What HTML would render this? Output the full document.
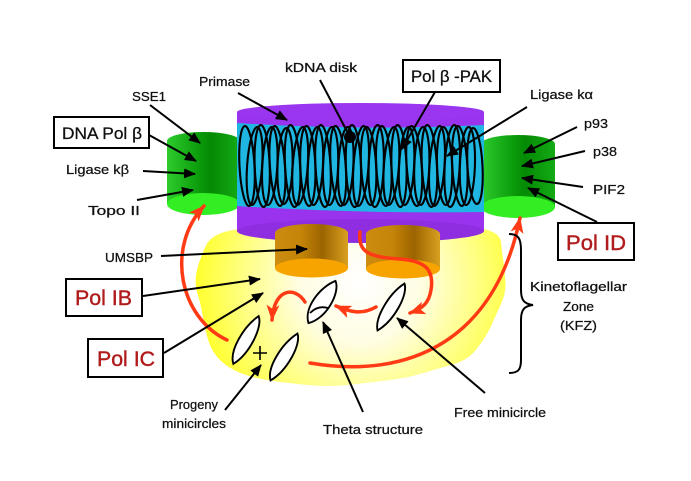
<!DOCTYPE html>
<html><head><meta charset="utf-8"><style>
html,body{margin:0;padding:0;background:#fff;width:691px;height:481px;overflow:hidden}
svg{display:block}
text{font-family:"Liberation Sans",sans-serif;fill:#111}
.s{font-size:12.5px;stroke:#111;stroke-width:0.25}
.b{font-size:17px;stroke:#111;stroke-width:0.3}
.r{font-size:21px;fill:#b01c1c;stroke:#b01c1c;stroke-width:0.4}
</style></head><body>
<svg width="691" height="481" viewBox="0 0 691 481" xmlns="http://www.w3.org/2000/svg">
<defs>
<radialGradient id="yg" cx="360" cy="282" r="175" gradientUnits="userSpaceOnUse">
<stop offset="0" stop-color="#ffffff"/><stop offset="0.35" stop-color="#fffde2"/><stop offset="0.68" stop-color="#ffff80"/><stop offset="1" stop-color="#ffff1a"/>
</radialGradient>
<linearGradient id="gg" x1="0" x2="1" y1="0" y2="0">
<stop offset="0" stop-color="#2dcc2d"/><stop offset="0.45" stop-color="#0a9a0a"/><stop offset="0.6" stop-color="#058a05"/><stop offset="1" stop-color="#14ab14"/>
</linearGradient>
<linearGradient id="og" x1="0" x2="1" y1="0" y2="0">
<stop offset="0" stop-color="#cc8c10"/><stop offset="0.35" stop-color="#c58508"/><stop offset="0.65" stop-color="#9c6400"/><stop offset="1" stop-color="#d9a020"/>
</linearGradient>
<marker id="ab" viewBox="0 0 12 10" refX="11" refY="5" markerWidth="12" markerHeight="10" markerUnits="userSpaceOnUse" orient="auto"><path d="M0,0 L12,5 L0,10 z" fill="#000"/></marker>
<marker id="ar" viewBox="0 0 16 13" refX="15" refY="6.5" markerWidth="16" markerHeight="13" markerUnits="userSpaceOnUse" orient="auto"><path d="M0,0 L16,6.5 L0,13 L4,6.5 z" fill="#ff3a14"/></marker>
</defs>

<!-- yellow KFZ blob -->
<path d="M206,245.5 Q212,233 236,229.5 Q260,226 310,224 Q360,222 410,223 Q460,224 480,228 Q500,232 501,242 Q502,252 503.5,262 Q505,272 505.5,282.5 Q506,293 501,304 Q496,315 491,326 Q486,337 477,348.5 Q468,360 454,364 Q440,368 423.5,373 Q407,378 387,380.5 Q367,383 347.5,385 Q328,387 307.5,385 Q287,383 270,380.5 Q253,378 240.5,373 Q228,368 220,360 Q212,352 208.5,341 Q205,330 203,317.5 Q201,305 197.5,293.5 Q194,282 197,270 Q200,258 206,245.5 Z" fill="url(#yg)"/>

<!-- green cylinders -->
<g>
<rect x="167" y="141" width="73" height="63" fill="url(#gg)"/>
<ellipse cx="203.5" cy="141" rx="36.5" ry="9" fill="url(#gg)"/>
<ellipse cx="203.5" cy="204" rx="36.5" ry="11" fill="#33ee22"/>
<rect x="481" y="144" width="74" height="63" fill="url(#gg)"/>
<ellipse cx="518" cy="144" rx="37" ry="9" fill="url(#gg)"/>
<ellipse cx="518" cy="207" rx="37" ry="11" fill="#33ee22"/>
</g>

<!-- purple disk -->
<rect x="237" y="112" width="247" height="119" fill="#9933ee"/>
<ellipse cx="360.5" cy="112" rx="123.5" ry="9" fill="#9b36f0"/>
<ellipse cx="360.5" cy="231" rx="123.5" ry="12" fill="#8f2ee0"/>
<path d="M237,123 Q360,131 484,125 L484,212 Q360,214 237,206 Z" fill="#20b6e2"/>

<!-- kDNA loops -->
<g fill="none" stroke="#000" stroke-width="2.1">
<ellipse cx="247" cy="166" rx="7.5" ry="40" transform="rotate(-3 247 166)"/>
<ellipse cx="254.6" cy="166" rx="7.5" ry="39" transform="rotate(4 254.6 166)"/>
<ellipse cx="262.2" cy="166" rx="7.5" ry="41" transform="rotate(-2 262.2 166)"/>
<ellipse cx="269.8" cy="166" rx="7.5" ry="39" transform="rotate(3 269.8 166)"/>
<ellipse cx="277.4" cy="166" rx="7.5" ry="40" transform="rotate(-4 277.4 166)"/>
<ellipse cx="285" cy="166" rx="7.5" ry="38" transform="rotate(2 285 166)"/>
<ellipse cx="292.6" cy="166" rx="7.5" ry="41" transform="rotate(-3 292.6 166)"/>
<ellipse cx="300.2" cy="166" rx="7.5" ry="39" transform="rotate(4 300.2 166)"/>
<ellipse cx="307.8" cy="166" rx="7.5" ry="40" transform="rotate(-2 307.8 166)"/>
<ellipse cx="315.4" cy="166" rx="7.5" ry="39" transform="rotate(3 315.4 166)"/>
<ellipse cx="323" cy="166" rx="7.5" ry="41" transform="rotate(-3 323 166)"/>
<ellipse cx="330.6" cy="166" rx="7.5" ry="39" transform="rotate(2 330.6 166)"/>
<ellipse cx="338.2" cy="166" rx="7.5" ry="40" transform="rotate(-4 338.2 166)"/>
<ellipse cx="345.8" cy="166" rx="7.5" ry="39" transform="rotate(3 345.8 166)"/>
<ellipse cx="353.4" cy="166" rx="7.5" ry="41" transform="rotate(-2 353.4 166)"/>
<ellipse cx="361" cy="166" rx="7.5" ry="40" transform="rotate(4 361 166)"/>
<ellipse cx="368.6" cy="166" rx="7.5" ry="39" transform="rotate(-3 368.6 166)"/>
<ellipse cx="376.2" cy="166" rx="7.5" ry="41" transform="rotate(2 376.2 166)"/>
<ellipse cx="383.8" cy="166" rx="7.5" ry="40" transform="rotate(-3 383.8 166)"/>
<ellipse cx="391.4" cy="166" rx="7.5" ry="39" transform="rotate(4 391.4 166)"/>
<ellipse cx="399" cy="166" rx="7.5" ry="41" transform="rotate(-2 399 166)"/>
<ellipse cx="406.6" cy="166" rx="7.5" ry="39" transform="rotate(3 406.6 166)"/>
<ellipse cx="414.2" cy="166" rx="7.5" ry="40" transform="rotate(-4 414.2 166)"/>
<ellipse cx="421.8" cy="166" rx="7.5" ry="39" transform="rotate(2 421.8 166)"/>
<ellipse cx="429.4" cy="166" rx="7.5" ry="41" transform="rotate(-3 429.4 166)"/>
<ellipse cx="437" cy="166" rx="7.5" ry="40" transform="rotate(4 437 166)"/>
<ellipse cx="444.6" cy="166" rx="7.5" ry="39" transform="rotate(-2 444.6 166)"/>
<ellipse cx="452.2" cy="166" rx="7.5" ry="41" transform="rotate(3 452.2 166)"/>
<ellipse cx="459.8" cy="166" rx="7.5" ry="40" transform="rotate(-3 459.8 166)"/>
<ellipse cx="467.4" cy="166" rx="7.5" ry="39" transform="rotate(2 467.4 166)"/>
<ellipse cx="475" cy="166" rx="7.5" ry="38" transform="rotate(-3 475 166)"/>
</g>

<!-- orange cylinders (UMSBP) -->
<rect x="275" y="233" width="73" height="35" fill="url(#og)"/>
<ellipse cx="311.5" cy="233" rx="36.5" ry="9" fill="url(#og)"/>
<ellipse cx="311.5" cy="268" rx="36.5" ry="9.5" fill="#f7a400"/>
<rect x="366" y="234" width="74" height="35" fill="url(#og)"/>
<ellipse cx="403" cy="234" rx="37" ry="9" fill="url(#og)"/>
<ellipse cx="403" cy="269" rx="37" ry="9.5" fill="#f7a400"/>

<!-- red arrows -->
<g fill="none" stroke="#ff3a14" stroke-width="3.5" stroke-linecap="round">
<path d="M227,340 C180,318 165,248 204,206" marker-end="url(#ar)"/>
<path d="M310,363 C410,380 495,340 520,218" marker-end="url(#ar)"/>
<path d="M360,232 C358,252 368,257 400,259 C428,261 434,272 431,290 C429,302 424,308 410,313" marker-end="url(#ar)"/>
<path d="M376,307 C362,315 350,312 336,306" marker-end="url(#ar)"/>
<path d="M305,302 C295,286 274,288 272,320" marker-end="url(#ar)"/>
</g>

<!-- minicircles -->
<g fill="#fff" stroke="#000" stroke-width="1.9">
<path transform="translate(391,307) rotate(-58)" d="M-27,1 C-18,-8 10,-9 27,-1 C20,8 -10,10 -27,1 Z"/>
<path transform="translate(322,302) rotate(-55)" d="M-25,1 C-15,-12 12,-10 25,-1 C18,10 -12,13 -25,1 Z"/>
<path transform="translate(246,340) rotate(-60)" d="M-27,1 C-18,-9 10,-9 27,-1 C20,8 -10,10 -27,1 Z"/>
<path transform="translate(284,357) rotate(-58)" d="M-27,1 C-18,-9 10,-9 27,-1 C20,8 -10,10 -27,1 Z"/>
</g>
<path d="M310,313 Q318,305 328,308" fill="none" stroke="#000" stroke-width="1.8"/>
<path d="M260,346 V360 M253,353 H267" stroke="#000" stroke-width="1.6"/>

<!-- black pointer lines -->
<g stroke="#000" stroke-width="2" fill="none" marker-end="url(#ab)">
<line x1="238" y1="93" x2="287" y2="120"/>
<line x1="435" y1="92" x2="402" y2="149"/>
<line x1="527" y1="107" x2="447" y2="156"/>
<line x1="150" y1="105" x2="200" y2="143"/>
<line x1="149" y1="135" x2="196" y2="161"/>
<line x1="143" y1="171" x2="195" y2="174"/>
<line x1="137" y1="200" x2="193" y2="190"/>
<line x1="577" y1="127" x2="524" y2="153"/>
<line x1="585" y1="151" x2="522" y2="166"/>
<line x1="583" y1="187" x2="522" y2="178"/>
<line x1="597" y1="222" x2="528" y2="188"/>
<line x1="161" y1="256" x2="307" y2="249"/>
<line x1="143" y1="296" x2="260" y2="279"/>
<line x1="164" y1="353" x2="263" y2="293"/>
<line x1="225" y1="410" x2="261" y2="365"/>
<line x1="363" y1="412" x2="323" y2="322"/>
<line x1="485" y1="393" x2="397" y2="318"/>
</g>
<line x1="320" y1="80" x2="350" y2="137" stroke="#000" stroke-width="2"/>
<circle cx="350" cy="137" r="6" fill="#000"/>

<!-- brace -->
<path d="M509,234 C518,234 521,238 521,250 L521,290 C521,300 524,304 533,305 C524,306 521,310 521,320 L521,360 C521,370 518,373 509,373" fill="none" stroke="#000" stroke-width="2"/>

<!-- boxes -->
<g fill="#fff" stroke="#000" stroke-width="2">
<rect x="54" y="117" width="95" height="31"/>
<rect x="403" y="60" width="97" height="32"/>
<rect x="558" y="223" width="76" height="37"/>
<rect x="66" y="279" width="76" height="37"/>
<rect x="88" y="339" width="75" height="38"/>
</g>

<!-- labels -->
<text class="s" x="199" y="86" textLength="51" lengthAdjust="spacingAndGlyphs">Primase</text>
<text class="s" x="285" y="72" textLength="72" lengthAdjust="spacingAndGlyphs">kDNA disk</text>
<text class="s" x="132" y="101" textLength="34" lengthAdjust="spacingAndGlyphs">SSE1</text>
<text class="s" x="66" y="174" textLength="63" lengthAdjust="spacingAndGlyphs">Ligase kβ</text>
<text class="s" x="88" y="215" textLength="52" lengthAdjust="spacingAndGlyphs">Topo II</text>
<text class="s" x="530" y="99" textLength="63" lengthAdjust="spacingAndGlyphs">Ligase kα</text>
<text class="s" x="584" y="128" textLength="24" lengthAdjust="spacingAndGlyphs">p93</text>
<text class="s" x="593" y="156" textLength="24" lengthAdjust="spacingAndGlyphs">p38</text>
<text class="s" x="593" y="194" textLength="32" lengthAdjust="spacingAndGlyphs">PIF2</text>
<text class="s" x="105" y="262" textLength="48" lengthAdjust="spacingAndGlyphs">UMSBP</text>
<text class="s" x="170" y="409" textLength="48" lengthAdjust="spacingAndGlyphs">Progeny</text>
<text class="s" x="162" y="428" textLength="64" lengthAdjust="spacingAndGlyphs">minicircles</text>
<text class="s" x="323" y="434" textLength="100" lengthAdjust="spacingAndGlyphs">Theta structure</text>
<text class="s" x="454" y="417" textLength="92" lengthAdjust="spacingAndGlyphs">Free minicircle</text>
<text class="s" x="530" y="291" textLength="97" lengthAdjust="spacingAndGlyphs">Kinetoflagellar</text>
<text class="s" x="563" y="311" textLength="31" lengthAdjust="spacingAndGlyphs">Zone</text>
<text class="s" x="560" y="330" textLength="37" lengthAdjust="spacingAndGlyphs">(KFZ)</text>

<text class="b" x="62" y="139" textLength="80" lengthAdjust="spacingAndGlyphs">DNA Pol β</text>
<text class="b" x="411" y="82" textLength="81" lengthAdjust="spacingAndGlyphs">Pol β -PAK</text>
<text class="r" x="566" y="250" textLength="60" lengthAdjust="spacingAndGlyphs">Pol ID</text>
<text class="r" x="75" y="305" textLength="57" lengthAdjust="spacingAndGlyphs">Pol IB</text>
<text class="r" x="97" y="366" textLength="58" lengthAdjust="spacingAndGlyphs">Pol IC</text>
</svg>
</body></html>
